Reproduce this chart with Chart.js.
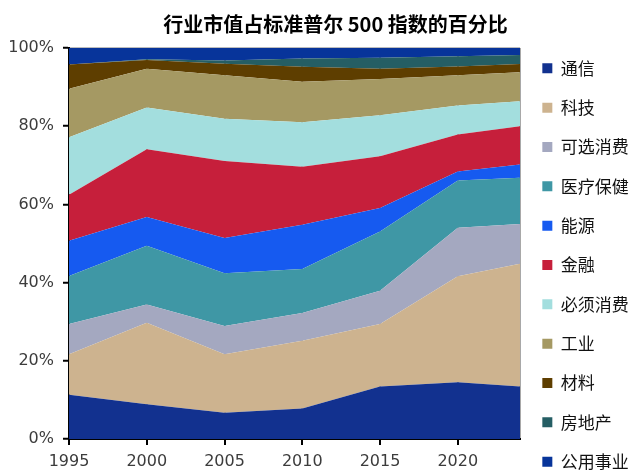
<!DOCTYPE html>
<html>
<head>
<meta charset="utf-8">
<script src="https://cdn.jsdelivr.net/npm/chart.js@4/dist/chart.umd.min.js"></script>
<style>
html,body{margin:0;padding:0;background:#fff;overflow:hidden;}
canvas{display:block;}
</style>
</head>
<body>
<canvas id="c" width="631" height="470"></canvas>
<script>
// Years (x axis)
const years = [1995, 2000, 2005, 2010, 2015, 2020, 2024];
const xTicks = [1995, 2000, 2005, 2010, 2015, 2020];
const yTicks = [0, 20, 40, 60, 80, 100];

// Sector names (legend order, bottom of stack first)
const sectors = ['通信', '科技', '可选消费', '医疗保健', '能源', '金融', '必须消费', '工业', '材料', '房地产', '公用事业'];

// Share of S&P 500 market value (%)
const telecom      = [11.3,  8.9,  6.7,  7.8, 13.4, 14.5, 13.4];
const tech         = [10.4, 20.8, 15.0, 17.3, 16.0, 27.1, 31.4];
const consDisc     = [ 7.7,  4.7,  7.2,  7.1,  8.5, 12.4, 10.2];
const health       = [12.3, 15.0, 13.5, 11.3, 15.2, 12.1, 11.8];
const energy       = [ 9.0,  7.4,  9.0, 11.3,  6.0,  2.3,  3.4];
const financials   = [11.8, 17.3, 19.7, 14.8, 13.2,  9.5,  9.8];
const staples      = [14.7, 10.7, 10.8, 11.4, 10.5,  7.4,  6.4];
const industrials  = [12.4,  9.9, 11.1, 10.4,  9.3,  7.7,  7.4];
const materials    = [ 6.2,  2.2,  3.0,  3.8,  2.6,  2.3,  2.1];
const realEstate   = [ 0.0,  0.2,  0.8,  2.1,  2.8,  2.6,  2.3];
const utilities    = [ 4.2,  2.9,  3.2,  2.7,  2.5,  2.1,  1.8];

const seriesValues = [telecom, tech, consDisc, health, energy, financials, staples, industrials, materials, realEstate, utilities];
const colors = ['#12318f', '#cdb38f', '#a4a8c0', '#3f97a5', '#165af0', '#c61f3b', '#a3dede', '#a59963', '#5e3e00', '#255e64', '#07349a'];

const datasets = sectors.map((name, i) => ({
  label: name,
  data: years.map((yr, j) => ({x: yr, y: seriesValues[i][j]})),
  backgroundColor: colors[i],
  borderColor: colors[i],
  borderWidth: 0,
  pointRadius: 0,
  pointHoverRadius: 0,
  tension: 0,
  fill: i === 0 ? 'origin' : '-1'
}));

const legendShift = {
  id: 'legendShift',
  afterLayout(chart) {
    const l = chart.legend;
    if (l) { l.top += 22.5; l.bottom += 22.5; }
  }
};

new Chart(document.getElementById('c'), {
  type: 'line',
  data: { datasets },
  plugins: [legendShift],
  options: {
    responsive: false,
    animation: false,
    layout: { padding: 0 },
    plugins: {
      title: {
        display: true,
        text: '\u3000\u3000行业市值占标准普尔 500 指数的百分比',
        color: '#000',
        font: { family: '"Noto Sans CJK SC", sans-serif', size: 20, weight: 'bold', lineHeight: 1.2 },
        padding: { top: 12, bottom: 12 }
      },
      legend: {
        position: 'right',
        align: 'end',
        maxWidth: 111,
        labels: {
          boxWidth: 10,
          boxHeight: 10,
          padding: 22.33,
          color: '#111',
          font: { family: '"Noto Sans CJK SC", sans-serif', size: 17 }
        }
      },
      tooltip: { enabled: false }
    },
    scales: {
      x: {
        type: 'linear',
        min: 1995,
        max: 2024,
        z: 1,
        afterFit(s) { s.height = 31; },
        afterBuildTicks(s) { s.ticks = xTicks.concat([2024]).map(v => ({value: v})); },
        ticks: {
          stepSize: 5,
          maxRotation: 0,
          autoSkip: false,
          padding: 9,
          color: '#3c3c3c',
          font: { family: '"DejaVu Sans", sans-serif', size: 16, lineHeight: 1 },
          callback: v => (xTicks.includes(v) ? String(v) : '')
        },
        grid: {
          drawOnChartArea: true,
          color: '#a8a8a8',
          lineWidth: 2,
          drawTicks: true,
          tickLength: 6,
          tickWidth: 2,
          tickColor: ctx => (ctx.tick && ctx.tick.value === 2024 ? 'rgba(0,0,0,0)' : '#000')
        },
        border: { display: true, color: '#000', width: 2 }
      },
      y: {
        stacked: true,
        min: 0,
        max: 100,
        z: 1,
        afterFit(s) { s.width = 69; },
        afterBuildTicks(s) { s.ticks = yTicks.map(v => ({value: v})); },
        ticks: {
          stepSize: 20,
          padding: 9,
          color: '#3c3c3c',
          font: { family: '"DejaVu Sans", sans-serif', size: 16 },
          callback: v => v + '%'
        },
        grid: {
          drawOnChartArea: true,
          color: ctx => (ctx.tick && ctx.tick.value === 100 ? '#bdbdbd' : 'rgba(0,0,0,0)'),
          lineWidth: 1.5,
          drawTicks: true,
          tickLength: 6,
          tickWidth: 2,
          tickColor: '#000'
        },
        border: { display: true, color: '#000', width: 2 }
      }
    }
  }
});
</script>
</body>
</html>
